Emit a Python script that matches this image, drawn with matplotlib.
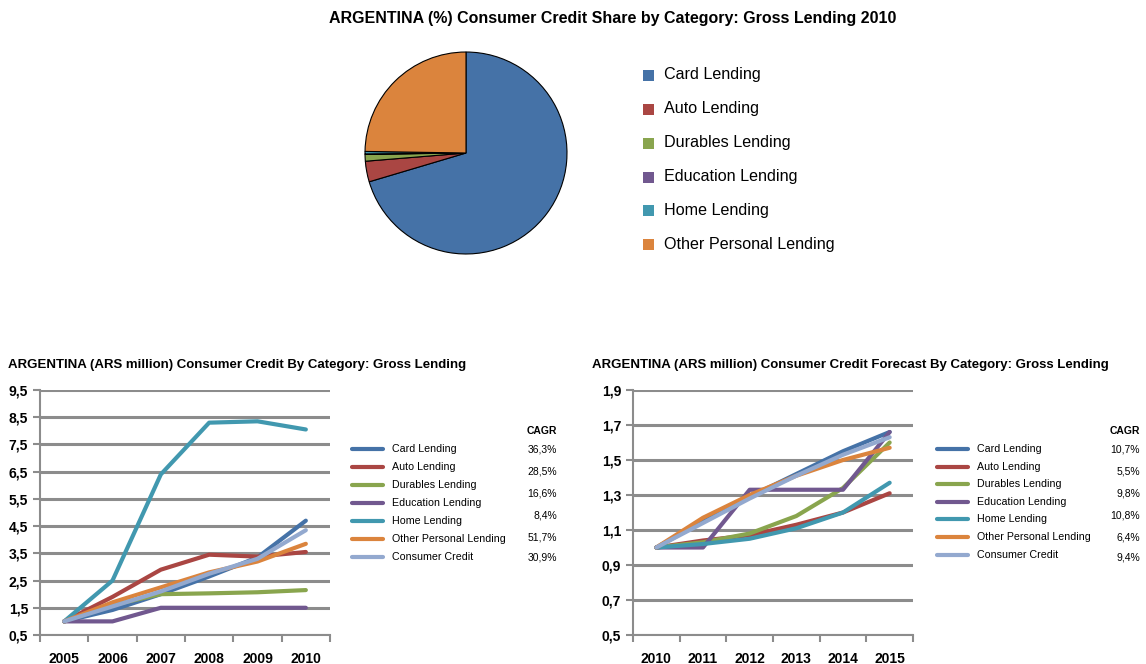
import numpy as np
import matplotlib
matplotlib.use('Agg')
import matplotlib.pyplot as plt
from matplotlib.patches import Rectangle
from matplotlib.lines import Line2D

plt.rcParams['font.family'] = ['Liberation Sans', 'DejaVu Sans']

# Данные
categories = ['Card Lending', 'Auto Lending', 'Durables Lending', 'Education Lending',
              'Home Lending', 'Other Personal Lending']
pie_shares = [70.4, 3.3, 1.1, 0.05, 0.4, 24.75]

series_names = categories + ['Consumer Credit']
colors = ['#4572A7', '#AA4643', '#89A54E', '#71588F', '#4198AF', '#DB843D', '#93A9CF']

years_hist = ['2005', '2006', '2007', '2008', '2009', '2010']
hist_card = [1.0, 1.42, 2.0, 2.65, 3.35, 4.7]
hist_auto = [1.0, 1.9, 2.9, 3.45, 3.38, 3.55]
hist_durables = [1.0, 1.6, 2.0, 2.03, 2.07, 2.15]
hist_education = [1.0, 1.0, 1.5, 1.5, 1.5, 1.5]
hist_home = [1.0, 2.5, 6.4, 8.3, 8.35, 8.05]
hist_other = [1.0, 1.7, 2.25, 2.8, 3.2, 3.85]
hist_consumer = [1.0, 1.55, 2.1, 2.75, 3.3, 4.35]
hist_cagr = ['36,3%', '28,5%', '16,6%', '8,4%', '51,7%', '30,9%']

years_fc = ['2010', '2011', '2012', '2013', '2014', '2015']
fc_card = [1.0, 1.15, 1.29, 1.42, 1.55, 1.66]
fc_auto = [1.0, 1.04, 1.07, 1.13, 1.20, 1.31]
fc_durables = [1.0, 1.03, 1.08, 1.18, 1.34, 1.60]
fc_education = [1.0, 1.0, 1.33, 1.33, 1.33, 1.66]
fc_home = [1.0, 1.02, 1.05, 1.11, 1.20, 1.37]
fc_other = [1.0, 1.17, 1.30, 1.41, 1.50, 1.57]
fc_consumer = [1.0, 1.14, 1.28, 1.41, 1.53, 1.63]
fc_cagr = ['10,7%', '5,5%', '9,8%', '10,8%', '6,4%', '9,4%']

W, H = 1146, 664
fig = plt.figure(figsize=(W / 100, H / 100), dpi=100)


def box(x, y, w, h):
    # пиксели (от верхнего левого угла) -> координаты фигуры
    return [x / W, 1 - (y + h) / H, w / W, h / H]


def fx(x):
    return x / W


def fy(y):
    return 1 - y / H


# Круговая диаграмма
fig.text(fx(613), fy(18), 'ARGENTINA (%) Consumer Credit Share by Category: Gross Lending 2010',
         ha='center', va='center', fontsize=11.5, fontweight='bold')
ax_pie = fig.add_axes(box(364, 51, 204, 204))
ax_pie.pie(pie_shares, colors=colors[:6], startangle=90, counterclock=False,
           wedgeprops=dict(edgecolor='black', linewidth=0.8))
ax_pie.set_xlim(-1.01, 1.01)
ax_pie.set_ylim(-1.01, 1.01)
ax_pie.set_aspect('equal')
ax_pie.axis('off')

for i, name in enumerate(categories):
    y = 75 + 34 * i
    fig.patches.append(Rectangle((fx(643), fy(y + 5.5)), 11 / W, 11 / H,
                                 transform=fig.transFigure, facecolor=colors[i],
                                 edgecolor='none'))
    fig.text(fx(664), fy(y), name, ha='left', va='center', fontsize=11.6)


def line_chart(left, right, title, title_x, xlabels, series, yticks, cagr, leg_x, text_x, cagr_x, leg_rows):
    fig.text(fx(title_x), fy(365), title, ha='left', va='center', fontsize=9.5, fontweight='bold')
    ax = fig.add_axes(box(left, 390, right - left, 245))
    x = np.arange(len(xlabels))
    for vals, c in zip(series, colors):
        ax.plot(x, vals, color=c, linewidth=3, solid_capstyle='round', zorder=3)
    ax.set_xlim(-0.5, len(xlabels) - 0.5)
    ax.set_ylim(yticks[0], yticks[-1])
    ax.set_yticks(yticks)
    ax.set_yticklabels([f'{t:.1f}'.replace('.', ',') for t in yticks],
                       fontsize=10, fontweight='bold')
    ax.set_xticks(np.arange(len(xlabels) + 1) - 0.5)
    ax.set_xticklabels([])
    ax.set_xticks(x, minor=True)
    ax.set_xticklabels(xlabels, minor=True, fontsize=10, fontweight='bold')
    ax.tick_params(axis='x', which='minor', length=0, pad=12)
    ax.tick_params(axis='both', which='major', length=5, width=1.5, color='#8c8c8c', direction='out')
    ax.grid(axis='y', color='#8c8c8c', linewidth=2.2, zorder=0)
    for s in ['top', 'right']:
        ax.spines[s].set_visible(False)
    for s in ['left', 'bottom']:
        ax.spines[s].set_color('#8c8c8c')
        ax.spines[s].set_linewidth(1.5)
    ax.set_axisbelow(True)

    fig.text(fx(cagr_x), fy(431), 'CAGR', ha='right', va='center', fontsize=7.5, fontweight='bold')
    for i, name in enumerate(series_names):
        y = leg_rows[i]
        fig.add_artist(Line2D([fx(leg_x), fx(leg_x + 31)], [fy(y), fy(y)], color=colors[i],
                              linewidth=3, solid_capstyle='round', transform=fig.transFigure))
        fig.text(fx(text_x), fy(y), name, ha='left', va='center', fontsize=7.7)
    cagr_rows = [449, 472, 494, 516, 537, 557]
    for y, v in zip(cagr_rows, cagr):
        fig.text(fx(cagr_x), fy(y), v, ha='right', va='center', fontsize=7.5)
    return ax


line_chart(40, 330, 'ARGENTINA (ARS million) Consumer Credit By Category: Gross Lending', 8,
           years_hist,
           [hist_card, hist_auto, hist_durables, hist_education, hist_home, hist_other, hist_consumer],
           [0.5, 1.5, 2.5, 3.5, 4.5, 5.5, 6.5, 7.5, 8.5, 9.5], hist_cagr,
           352, 392, 557, [449, 467, 485, 503, 521, 539, 557])

line_chart(633, 913, 'ARGENTINA (ARS million) Consumer Credit Forecast By Category: Gross Lending', 592,
           years_fc,
           [fc_card, fc_auto, fc_durables, fc_education, fc_home, fc_other, fc_consumer],
           [0.5, 0.7, 0.9, 1.1, 1.3, 1.5, 1.7, 1.9], fc_cagr,
           937, 977, 1140, [449, 467, 484, 502, 519, 537, 555])

fig.savefig('out.png', dpi=100)
